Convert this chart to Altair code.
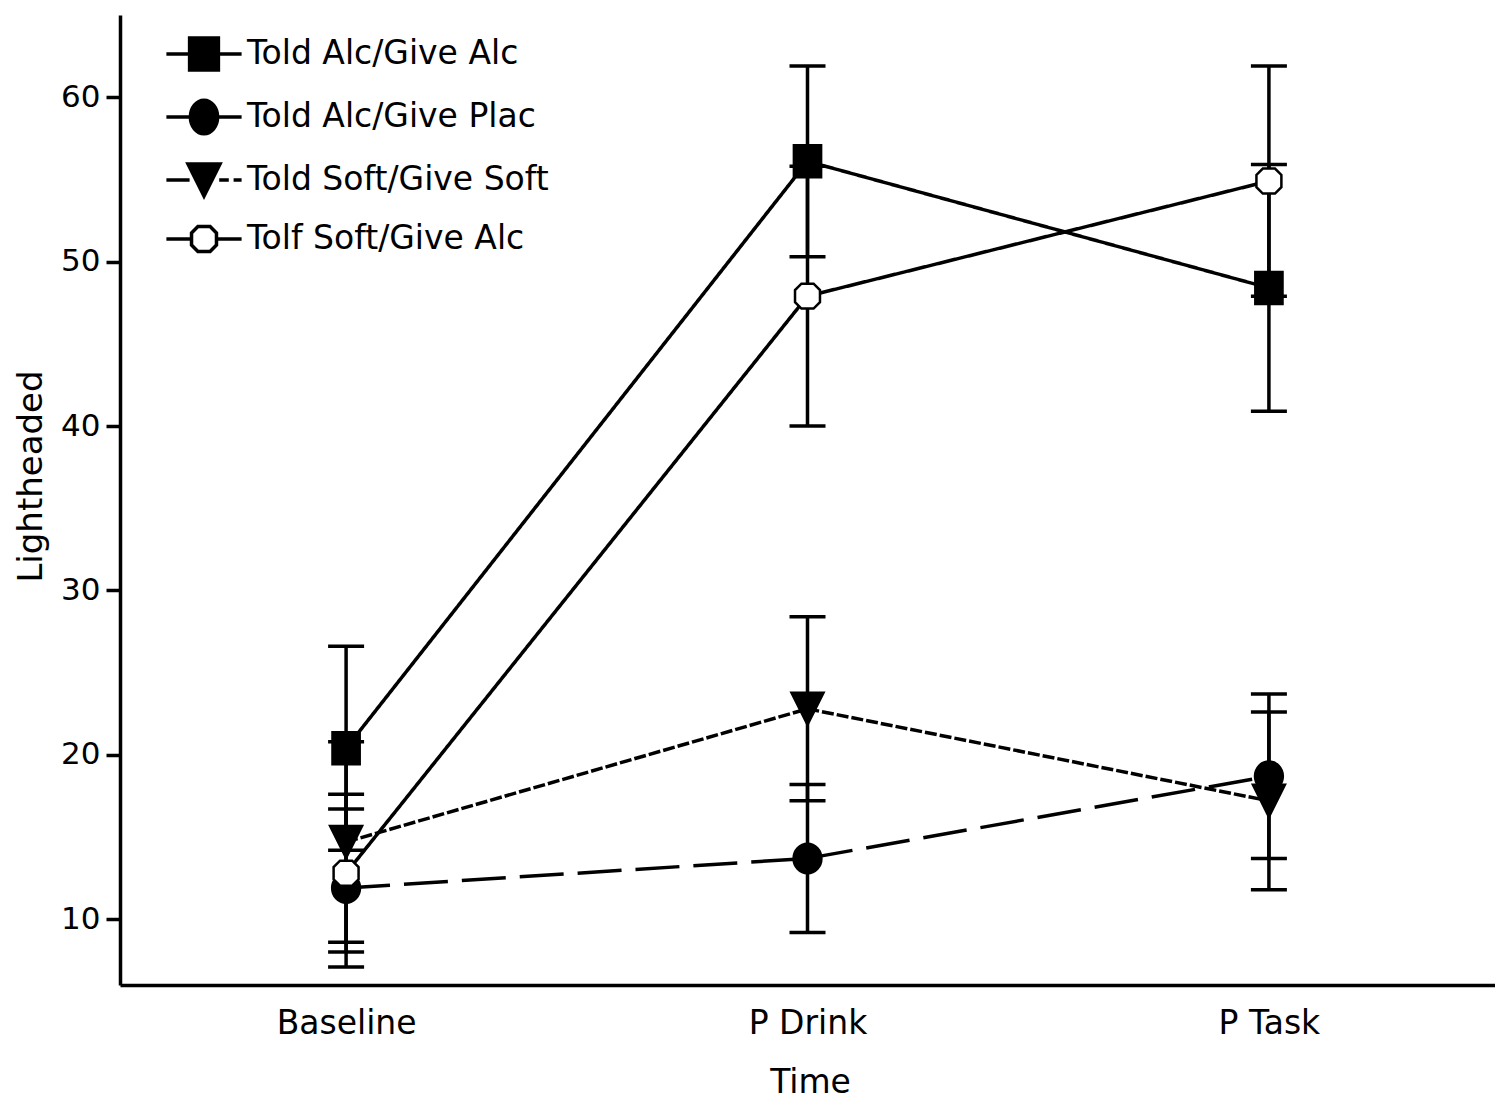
import altair as alt
import pandas as pd

time_points = ["Baseline", "P Drink", "P Task"]
groups = ["Told Alc/Give Alc", "Told Alc/Give Plac", "Told Soft/Give Soft", "Tolf Soft/Give Alc"]

mean_alc_alc = [20.4, 56.1, 48.4]
err_alc_alc = [6.2, 5.8, 7.5]
mean_alc_plac = [11.9, 13.7, 18.7]
err_alc_plac = [4.8, 4.5, 5.0]
mean_soft_soft = [14.7, 22.8, 17.2]
err_soft_soft = [6.1, 5.6, 5.4]
mean_soft_alc = [12.8, 47.9, 54.9]
err_soft_alc = [4.8, 7.9, 7.0]

y_ticks = [10, 20, 30, 40, 50, 60]

means = [mean_alc_alc, mean_alc_plac, mean_soft_soft, mean_soft_alc]
errs = [err_alc_alc, err_alc_plac, err_soft_soft, err_soft_alc]

rows = []
for g, m, e in zip(groups, means, errs):
    for t, mv, ev in zip(time_points, m, e):
        rows.append({"group": g, "time": t, "mean": mv, "lo": mv - ev, "hi": mv + ev})
df = pd.DataFrame(rows)

FONT = "DejaVu Sans"

# marker shapes (unit paths)
marker_paths = [
    "M-0.85,-1H0.85V1H-0.85Z",
    "M-0.87,0A0.87,0.92 0 1,1 0.87,0A0.87,0.92 0 1,1 -0.87,0Z",
    "M-1,-1H1L0,1Z",
    "M-0.38,-0.78H0.38L0.78,-0.38V0.38L0.38,0.78H-0.38L-0.78,0.38V-0.38Z",
]
legend_paths = [
    "M-2.35,0H2.35M-0.9,-1H0.9V1H-0.9Z",
    "M-2.35,0H2.35M-0.85,0A0.85,1.05 0 1,1 0.85,0A0.85,1.05 0 1,1 -0.85,0Z",
    "M-2.35,0H-0.9M0.95,0H1.55M1.85,0H2.35M-1,-1H1L0,1Z",
    "M-2.35,0H-0.75M0.75,0H2.35M-0.38,-0.78H0.38L0.78,-0.38V0.38L0.38,0.78H-0.38L-0.78,0.38V-0.38Z",
]
fill_range = ["black", "black", "black", "white"]
stroke_range = ["black", "black", "black", "black"]

x_enc = alt.X(
    "time:O",
    sort=time_points,
    scale=alt.Scale(type="point", padding=0.49),
    axis=alt.Axis(
        title="Time",
        labelAngle=0,
        ticks=False,
        labelPadding=22,
        labelBaseline="top",
        labelFontSize=33,
        labelFont=FONT,
        labelColor="black",
        domainColor="black",
        domainWidth=3.5,
        titleFont=FONT,
        titleFontSize=33,
        titleFontWeight="normal",
        titleColor="black",
        titleX=690,
        titleY=107,
        titleBaseline="alphabetic",
        titleAlign="center",
        grid=False,
    ),
)
y_scale = alt.Scale(domain=[6, 65], nice=False, zero=False)
y_axis = alt.Axis(
    title="Lightheaded",
    values=y_ticks,
    tickSize=14,
    tickWidth=3.5,
    tickColor="black",
    labelPadding=6,
    labelFontSize=31,
    labelFont=FONT,
    labelColor="black",
    domainColor="black",
    domainWidth=3.5,
    titleFont=FONT,
    titleFontSize=34,
    titleFontWeight="normal",
    titleColor="black",
    titleAngle=-90,
    titleX=-79,
    titleY=461,
    titleAlign="center",
    titleBaseline="alphabetic",
    grid=False,
)

base = alt.Chart(df)

lines = base.mark_line(color="black", strokeWidth=3.5).encode(
    x=x_enc,
    y=alt.Y("mean:Q", scale=y_scale, axis=y_axis),
    detail="group:N",
    strokeDash=alt.StrokeDash(
        "group:N",
        scale=alt.Scale(domain=groups, range=[[1, 0], [44, 14], [12, 3], [1, 0]]),
        legend=None,
    ),
)

rules = base.mark_rule(color="black", strokeWidth=3.5).encode(
    x=alt.X("time:O", sort=time_points),
    y=alt.Y("lo:Q", scale=y_scale),
    y2="hi:Q",
)
caps_lo = base.mark_tick(color="black", orient="horizontal", size=36, thickness=3.5, opacity=1).encode(
    x=alt.X("time:O", sort=time_points),
    y=alt.Y("lo:Q", scale=y_scale),
)
caps_hi = base.mark_tick(color="black", orient="horizontal", size=36, thickness=3.5, opacity=1).encode(
    x=alt.X("time:O", sort=time_points),
    y=alt.Y("hi:Q", scale=y_scale),
)

points = base.mark_point(filled=True, stroke="black", strokeWidth=2.5, opacity=1, size=1024).encode(
    x=alt.X("time:O", sort=time_points),
    y=alt.Y("mean:Q", scale=y_scale),
    shape=alt.Shape("group:N", scale=alt.Scale(domain=groups, range=marker_paths), legend=None),
    fill=alt.Fill("group:N", scale=alt.Scale(domain=groups, range=fill_range), legend=None),
)

legend_props = dict(
    title=None,
    orient="none",
    legendX=66,
    legendY=21,
    padding=0,
    symbolSize=1024,
    symbolStrokeWidth=3.5,
    symbolStrokeColor="black",
    symbolOpacity=1,
    labelFont=FONT,
    labelFontSize=33,
    labelColor="black",
    labelOffset=25,
    rowPadding=16,
    labelLimit=600,
)

legend_layer = (
    base.transform_filter("false")
    .mark_point(filled=True, strokeWidth=3.5, opacity=1, size=1024)
    .encode(
        x=alt.X("time:O", sort=time_points),
        y=alt.Y("mean:Q", scale=y_scale),
        shape=alt.Shape(
            "group:N",
            scale=alt.Scale(domain=groups, range=legend_paths),
            legend=alt.Legend(**legend_props),
        ),
        fill=alt.Fill(
            "group:N",
            scale=alt.Scale(domain=groups, range=fill_range),
            legend=alt.Legend(**legend_props),
        ),
        stroke=alt.Stroke(
            "group:N",
            scale=alt.Scale(domain=groups, range=stroke_range),
            legend=alt.Legend(**legend_props),
        ),
    )
)

chart = (
    alt.layer(lines, rules, caps_lo, caps_hi, points, legend_layer)
    .resolve_scale(shape="independent", fill="independent", stroke="independent")
    .properties(
        width=1375,
        height=970,
        autosize=alt.AutoSizeParams(type="none"),
        padding={"left": 120, "top": 15, "right": 0, "bottom": 116},
        background="white",
    )
    .configure_view(stroke=None)
)

chart.save("out.html", embed_options={"renderer": "svg", "actions": False})
